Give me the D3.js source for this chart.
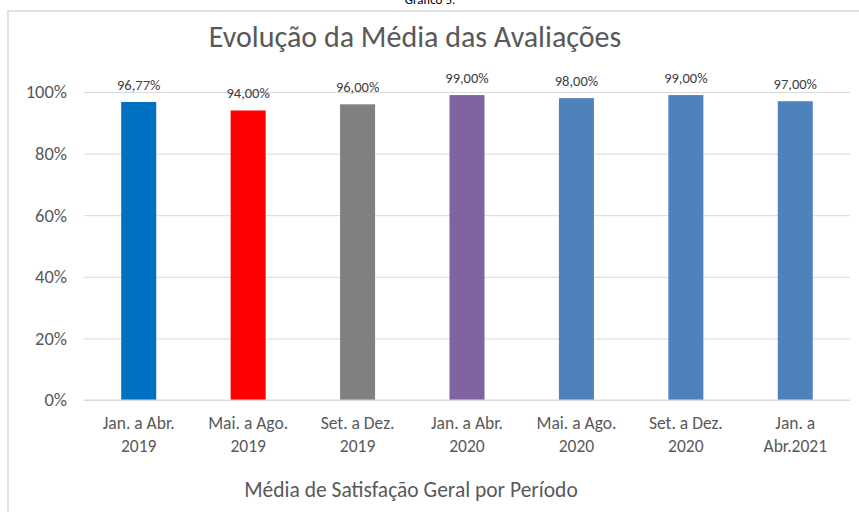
<!DOCTYPE html>
<html>
<head>
<meta charset="utf-8">
<script src="https://d3js.org/d3.v7.min.js"></script>
<style>
  body { margin: 0; background: #fff; }
  svg { display: block; font-family: Carlito, Lato, "Open Sans", sans-serif; }
</style>
</head>
<body>
<div id="chart"></div>
<script>
// Chart data
const periods = [
  ["Jan. a Abr.", "2019"],
  ["Mai. a Ago.", "2019"],
  ["Set. a Dez.", "2019"],
  ["Jan. a Abr.", "2020"],
  ["Mai. a Ago.", "2020"],
  ["Set. a Dez.", "2020"],
  ["Jan. a", "Abr.2021"]
];
const values = [0.9677, 0.94, 0.96, 0.99, 0.98, 0.99, 0.97];
const barColors = ["#0070C0", "#FF0000", "#808080", "#8064A2", "#4F81BD", "#4F81BD", "#4F81BD"];
const yTicks = [0, 0.2, 0.4, 0.6, 0.8, 1.0];

let width = 859;
let height = 512;
let margin = {top: 92, bottom: 112, left: 84, right: 9};

let svg = d3.select('#chart')
    .append('svg')
    .attr('width', width)
    .attr('height', height);

// Caption above the chart box (cut off at the top, as in the source)
svg.append('text')
    .attr('x', 430)
    .attr('y', 4)
    .attr('text-anchor', 'middle')
    .attr('font-size', 13)
    .attr('fill', '#000')
    .text('Gráfico 5.');

// Chart border
svg.append('rect')
    .attr('x', 8)
    .attr('y', 11)
    .attr('width', 852)
    .attr('height', 510)
    .attr('fill', 'none')
    .attr('stroke', '#d9d9d9')
    .attr('stroke-width', 1.5);

let data = values.map((v, i) => ({key: i, label: periods[i], value: v, color: barColors[i]}));

let x = d3.scaleBand()
    .domain(data.map(d => d.key))
    .range([margin.left, width - margin.right])
    .paddingInner(0.68)
    .paddingOuter(0.34);

let y = d3.scaleLinear()
    .domain([0, 1])
    .range([height - margin.bottom, margin.top]);

// Gridlines and y labels
let yAxis = svg.append('g')
    .attr('transform', `translate(${margin.left}, 0)`)
    .call(d3.axisLeft(y)
        .tickValues(yTicks)
        .tickSize(-(width - margin.left - margin.right))
        .tickPadding(17)
        .tickFormat(d3.format('.0%')));
yAxis.select('.domain').remove();
yAxis.selectAll('line').attr('stroke', '#d9d9d9');
yAxis.selectAll('text')
    .attr('font-size', 18.5)
    .attr('fill', '#595959')
    .attr('font-family', 'Carlito, Lato, "Open Sans", sans-serif');

// Bars
svg.selectAll('.bar')
    .data(data)
    .enter()
    .append('rect')
    .attr('class', 'bar')
    .attr('x', d => x(d.key))
    .attr('y', d => y(d.value))
    .attr('width', x.bandwidth())
    .attr('height', d => y(0) - y(d.value))
    .attr('fill', d => d.color);

// Value labels
svg.selectAll('.val')
    .data(data)
    .enter()
    .append('text')
    .attr('class', 'val')
    .attr('x', d => x(d.key) + x.bandwidth() / 2)
    .attr('y', d => y(d.value) - 12)
    .attr('text-anchor', 'middle')
    .attr('font-size', 14.5)
    .attr('fill', '#404040')
    .text(d => d3.format('.2f')(d.value * 100).replace('.', ',') + '%');

// X axis baseline
svg.append('line')
    .attr('x1', margin.left)
    .attr('x2', width - margin.right)
    .attr('y1', y(0))
    .attr('y2', y(0))
    .attr('stroke', '#d9d9d9');

// Category labels
let cats = svg.selectAll('.cat')
    .data(data)
    .enter()
    .append('text')
    .attr('class', 'cat')
    .attr('text-anchor', 'middle')
    .attr('font-size', 17.5)
    .attr('fill', '#595959');
cats.append('tspan')
    .attr('x', d => x(d.key) + x.bandwidth() / 2)
    .attr('y', 429)
    .text(d => d.label[0]);
cats.append('tspan')
    .attr('x', d => x(d.key) + x.bandwidth() / 2)
    .attr('y', 452)
    .text(d => d.label[1]);

// Axis title
svg.append('text')
    .attr('x', 411)
    .attr('y', 497)
    .attr('text-anchor', 'middle')
    .attr('font-size', 21.5)
    .attr('fill', '#595959')
    .text('Média de Satisfação Geral por Período');

// Chart title
svg.append('text')
    .attr('x', 415)
    .attr('y', 47)
    .attr('text-anchor', 'middle')
    .attr('font-size', 30)
    .attr('fill', '#595959')
    .text('Evolução da Média das Avaliações');
</script>
</body>
</html>
